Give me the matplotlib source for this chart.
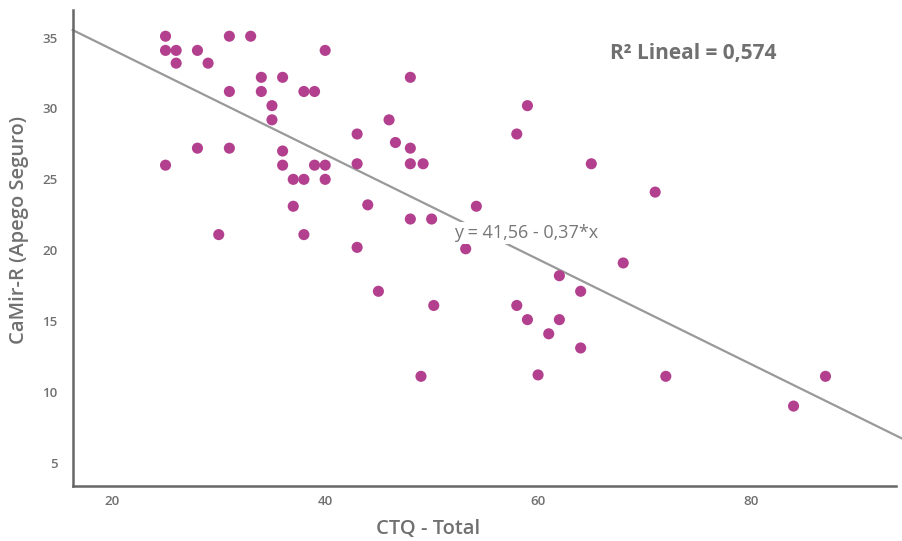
import numpy as np
import matplotlib
matplotlib.use("Agg")
import matplotlib.pyplot as plt

plt.rcParams['font.family'] = ['Open Sans', 'DejaVu Sans']

# -----------------------------
# Data
# -----------------------------
ctq_total = [25, 25, 26, 26, 28, 29, 31, 33, 40, 34, 36, 31, 34, 38, 39, 35, 35,
             43, 28, 31, 36, 25, 36, 39, 40, 43, 37, 38, 40, 37, 30, 38, 43,
             48, 46, 46.6, 48, 48, 49.2, 59, 58, 65, 44, 54.2, 48, 50, 53.2,
             71, 68, 62, 64, 50.2, 58, 59, 62, 61, 64, 49, 60, 72, 84, 87, 45]
camir_seguro = [35.1, 34.1, 34.1, 33.2, 34.1, 33.2, 35.1, 35.1, 34.1, 32.2, 32.2,
                31.2, 31.2, 31.2, 31.2, 30.2, 29.2, 28.2, 27.2, 27.2, 27.0, 26.0,
                26.0, 26.0, 26.0, 26.1, 25.0, 25.0, 25.0, 23.1, 21.1, 21.1, 20.2,
                32.2, 29.2, 27.6, 27.2, 26.1, 26.1, 30.2, 28.2, 26.1, 23.2, 23.1,
                22.2, 22.2, 20.1, 24.1, 19.1, 18.2, 17.1, 16.1, 16.1, 15.1, 15.1,
                14.1, 13.1, 11.1, 11.2, 11.1, 9.0, 11.1, 17.1]

intercept = 41.56
slope = -0.37
r2 = "0,574"

x_ticks = [20, 40, 60, 80]
y_ticks = [5, 10, 15, 20, 25, 30, 35]

# -----------------------------
# Figure
# -----------------------------
fig = plt.figure(figsize=(9.03, 5.41), dpi=100)
ax = fig.add_axes([0.0805, 0.1022, 0.9117, 0.8793])

xmin, xmax = 16.28, 93.62
ymin, ymax = 3.38, 36.95

# regression line (runs slightly past the right spine like the original)
xl = np.array([xmin, 94.3])
ax.plot(xl, intercept + slope * xl, color='#999999', lw=1.6, zorder=2, clip_on=False)

ax.scatter(ctq_total, camir_seguro, s=64, color='#b3408e', edgecolors='none', zorder=3)

ax.set_xlim(xmin, xmax)
ax.set_ylim(ymin, ymax)
ax.set_xticks(x_ticks)
ax.set_yticks(y_ticks)

text_gray = '#707070'
ax.tick_params(length=0, labelsize=9.5, labelcolor=text_gray)
ax.tick_params(axis='x', pad=7)
ax.tick_params(axis='y', pad=11)
for lab in ax.get_xticklabels() + ax.get_yticklabels():
    lab.set_fontweight('semibold')

for side in ['top', 'right']:
    ax.spines[side].set_visible(False)
for side in ['left', 'bottom']:
    ax.spines[side].set_color('#666666')
    ax.spines[side].set_linewidth(1.8)

# annotations
ax.text(52.1, 21.2, "y = 41,56 - 0,37*x", fontsize=13, color='#777777',
        ha='left', va='center', zorder=4,
        bbox=dict(facecolor='white', edgecolor='none', pad=1.5))
ax.text(66.8, 33.85, "R² Lineal = " + r2, fontsize=15, fontweight='bold',
        color=text_gray, ha='left', va='center')

fig.text(428 / 903, 1 - 529 / 541, "CTQ - Total", fontsize=14.5, fontweight='semibold',
         color=text_gray, ha='center', va='center')
fig.text(19 / 903, 1 - 230 / 541, "CaMir-R (Apego Seguro)", fontsize=14.5,
         fontweight='semibold', color=text_gray, rotation=90, ha='center', va='center')

fig.savefig("out.png", dpi=100)
